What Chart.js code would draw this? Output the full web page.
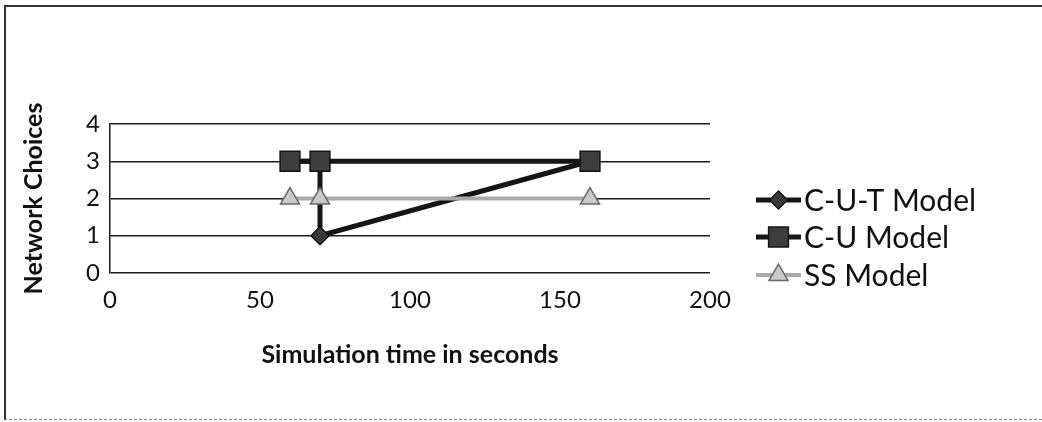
<!DOCTYPE html>
<html>
<head>
<meta charset="utf-8">
<script src="https://cdn.jsdelivr.net/npm/chart.js@4/dist/chart.umd.min.js"></script>
<style>
  html, body { margin: 0; padding: 0; background: #fff; }
  #wrap { position: relative; width: 1042px; height: 422px; }
  #frame {
    position: absolute; left: 4px; top: 5px; right: 0; bottom: 2px;
    border-top: 2px solid #333; border-left: 2px solid #333;
    border-bottom: 1px dashed #888;
    pointer-events: none;
  }
  canvas { position: absolute; left: 0; top: 0; }
</style>
</head>
<body>
<div id="wrap">
  <canvas id="myChart" width="1042" height="422"></canvas>
  <div id="frame"></div>
</div>
<script>
// series names and values (time in seconds, number of network choices)
const seriesNames = ['C-U-T Model', 'C-U Model', 'SS Model'];
const cutTimes = [60, 70, 70, 160];
const cutChoices = [3, 3, 1, 3];
const cuTimes = [60, 70, 160];
const cuChoices = [3, 3, 3];
const ssTimes = [60, 70, 160];
const ssChoices = [2, 2, 2];
const xTicks = [0, 50, 100, 150, 200];
const yTicks = [0, 1, 2, 3, 4];

const pts = (xs, ys) => xs.map((x, i) => ({ x: x, y: ys[i] }));

const font = 'Lato, "Open Sans", sans-serif';

// legend drawn to the right: line + marker + name
const sideLegend = {
    id: 'sideLegend',
    afterDraw(chart) {
        const ctx = chart.ctx;
        const x0 = 756, x1 = 801, rowY = [200, 237, 275];
        chart.data.datasets.forEach((ds, i) => {
            const y = rowY[i];
            ctx.save();
            ctx.strokeStyle = ds.borderColor;
            ctx.lineWidth = ds.borderWidth;
            ctx.beginPath();
            ctx.moveTo(x0, y);
            ctx.lineTo(x1, y);
            ctx.stroke();
            ctx.fillStyle = ds.pointBackgroundColor;
            ctx.strokeStyle = ds.pointBorderColor;
            ctx.lineWidth = ds.pointBorderWidth;
            Chart.helpers.drawPoint(ctx, {
                pointStyle: ds.pointStyle,
                radius: ds.pointRadius,
                rotation: 0,
                borderWidth: ds.pointBorderWidth
            }, (x0 + x1) / 2, y);
            ctx.fillStyle = '#111';
            ctx.font = '30px ' + font;
            ctx.textBaseline = 'middle';
            ctx.fillText(ds.label, x1 + 3, y + 1);
            ctx.restore();
        });
    }
};

const ctx = document.getElementById('myChart').getContext('2d');

new Chart(ctx, {
    type: 'scatter',
    data: {
        datasets: [{
            label: seriesNames[0],
            data: pts(cutTimes, cutChoices),
            showLine: true,
            borderColor: '#151515',
            borderWidth: 5,
            pointStyle: 'rectRot',
            pointRadius: 9,
            pointBackgroundColor: '#3a3a3a',
            pointBorderColor: '#151515',
            pointBorderWidth: 1.5,
            order: 3
        }, {
            label: seriesNames[1],
            data: pts(cuTimes, cuChoices),
            showLine: true,
            borderColor: '#151515',
            borderWidth: 5,
            pointStyle: 'rect',
            pointRadius: 14,
            pointBackgroundColor: '#3d3d3d',
            pointBorderColor: '#151515',
            pointBorderWidth: 1.5,
            order: 2
        }, {
            label: seriesNames[2],
            data: pts(ssTimes, ssChoices),
            showLine: true,
            borderColor: '#a9a9a9',
            borderWidth: 4,
            pointStyle: 'triangle',
            pointRadius: 11,
            pointBackgroundColor: '#c9c9c9',
            pointBorderColor: '#6a6a6a',
            pointBorderWidth: 1.5,
            order: 1
        }]
    },
    options: {
        responsive: false,
        animation: false,
        events: [],
        layout: { padding: { left: 0, top: 124, right: 332, bottom: 49 } },
        plugins: {
            legend: { display: false },
            tooltip: { enabled: false }
        },
        scales: {
            x: {
                type: 'linear',
                min: 0,
                max: 200,
                afterFit: (s) => { s.height = 100; },
                afterBuildTicks: (s) => { s.ticks = xTicks.map(v => ({ value: v })); },
                grid: { display: false, drawTicks: false },
                border: { display: false },
                ticks: {
                    padding: 13,
                    color: '#111',
                    font: { family: font, size: 24 }
                },
                title: {
                    display: true,
                    text: 'Simulation time in seconds',
                    color: '#111',
                    padding: { top: 0, bottom: 3 },
                    font: { family: font, size: 25, weight: 'bold' }
                }
            },
            y: {
                type: 'linear',
                min: 0,
                max: 4,
                afterFit: (s) => { s.width = 110; },
                afterBuildTicks: (s) => { s.ticks = yTicks.map(v => ({ value: v })); },
                grid: { color: '#1a1a1a', lineWidth: 1.5, drawTicks: false },
                border: { display: true, color: '#1a1a1a', width: 1.5 },
                ticks: {
                    padding: 10,
                    color: '#111',
                    font: { family: font, size: 24 }
                },
                title: {
                    display: true,
                    text: 'Network Choices',
                    color: '#111',
                    padding: { top: 19, bottom: 0 },
                    font: { family: font, size: 25, weight: 'bold' }
                }
            }
        }
    },
    plugins: [sideLegend]
});
</script>
</body>
</html>
